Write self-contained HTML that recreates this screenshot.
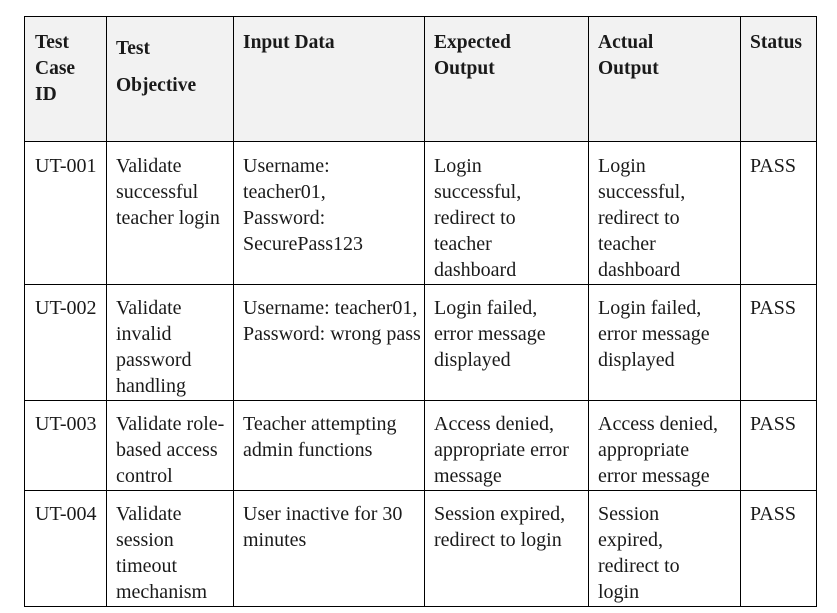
<!DOCTYPE html>
<html><head><style>
body{margin:0;width:837px;height:613px;background:#fff;position:relative;overflow:hidden;font-family:"Liberation Serif",serif;font-size:20px;color:#1a1a1a}
.l{position:absolute;background:#000}
.t{position:absolute;line-height:26px;white-space:nowrap}
.b{font-weight:bold;font-size:19.5px}
</style></head><body>
<div style="position:absolute;left:25px;top:16px;width:791px;height:125px;background:#f2f2f2"></div>
<div class="l" style="left:24px;top:16px;width:793px;height:1px"></div>
<div class="l" style="left:24px;top:141px;width:793px;height:1px"></div>
<div class="l" style="left:24px;top:284px;width:793px;height:1px"></div>
<div class="l" style="left:24px;top:400px;width:793px;height:1px"></div>
<div class="l" style="left:24px;top:490px;width:793px;height:1px"></div>
<div class="l" style="left:24px;top:606px;width:793px;height:1px"></div>
<div class="l" style="left:24px;top:16px;width:1px;height:591px"></div>
<div class="l" style="left:106px;top:16px;width:1px;height:591px"></div>
<div class="l" style="left:233px;top:16px;width:1px;height:591px"></div>
<div class="l" style="left:424px;top:16px;width:1px;height:591px"></div>
<div class="l" style="left:588px;top:16px;width:1px;height:591px"></div>
<div class="l" style="left:740px;top:16px;width:1px;height:591px"></div>
<div class="l" style="left:816px;top:16px;width:1px;height:591px"></div>

<div class="t b" style="left:35px;top:30px">Test<br>Case<br>ID</div>
<div class="t b" style="left:116px;top:30px;line-height:37px">Test<br>Objective</div>
<div class="t b" style="left:243px;top:30px">Input Data</div>
<div class="t b" style="left:434px;top:30px">Expected<br>Output</div>
<div class="t b" style="left:598px;top:30px">Actual<br>Output</div>
<div class="t b" style="left:750px;top:30px">Status</div>

<div class="t" style="left:35px;top:153px">UT-001</div>
<div class="t" style="left:116px;top:153px">Validate<br>successful<br>teacher login</div>
<div class="t" style="left:243px;top:153px">Username:<br>teacher01,<br>Password:<br>SecurePass123</div>
<div class="t" style="left:434px;top:153px">Login<br>successful,<br>redirect to<br>teacher<br>dashboard</div>
<div class="t" style="left:598px;top:153px">Login<br>successful,<br>redirect to<br>teacher<br>dashboard</div>
<div class="t" style="left:750px;top:153px">PASS</div>

<div class="t" style="left:35px;top:295px">UT-002</div>
<div class="t" style="left:116px;top:295px">Validate<br>invalid<br>password<br>handling</div>
<div class="t" style="left:243px;top:295px">Username: teacher01,<br>Password: wrong pass</div>
<div class="t" style="left:434px;top:295px">Login failed,<br>error message<br>displayed</div>
<div class="t" style="left:598px;top:295px">Login failed,<br>error message<br>displayed</div>
<div class="t" style="left:750px;top:295px">PASS</div>

<div class="t" style="left:35px;top:411px">UT-003</div>
<div class="t" style="left:116px;top:411px">Validate role-<br>based access<br>control</div>
<div class="t" style="left:243px;top:411px">Teacher attempting<br>admin functions</div>
<div class="t" style="left:434px;top:411px">Access denied,<br>appropriate error<br>message</div>
<div class="t" style="left:598px;top:411px">Access denied,<br>appropriate<br>error message</div>
<div class="t" style="left:750px;top:411px">PASS</div>

<div class="t" style="left:35px;top:501px">UT-004</div>
<div class="t" style="left:116px;top:501px">Validate<br>session<br>timeout<br>mechanism</div>
<div class="t" style="left:243px;top:501px">User inactive for 30<br>minutes</div>
<div class="t" style="left:434px;top:501px">Session expired,<br>redirect to login</div>
<div class="t" style="left:598px;top:501px">Session<br>expired,<br>redirect to<br>login</div>
<div class="t" style="left:750px;top:501px">PASS</div>
</body></html>
